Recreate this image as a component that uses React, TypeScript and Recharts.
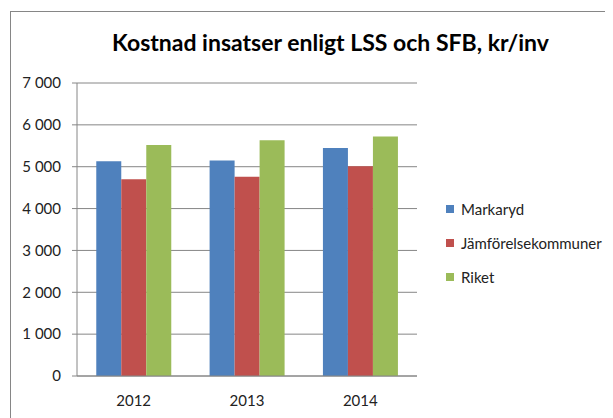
import { Bar, BarChart, CartesianGrid, XAxis, YAxis } from 'recharts';

const years = ['2012', '2013', '2014'];
const markaryd = [5130, 5150, 5450];
const jamforelse = [4700, 4760, 5010];
const riket = [5520, 5630, 5720];
const yTicks = [0, 1000, 2000, 3000, 4000, 5000, 6000, 7000];

const series = [
    { key: 'markaryd', name: 'Markaryd', color: '#4F81BD' },
    { key: 'jamforelse', name: 'Jämförelsekommuner', color: '#C0504D' },
    { key: 'riket', name: 'Riket', color: '#9BBB59' },
];

const data = years.map((year, i) => ({
    year,
    markaryd: markaryd[i],
    jamforelse: jamforelse[i],
    riket: riket[i],
}));

const font = 'Lato, "Open Sans", sans-serif';
const axisColor = '#868686';

const fmt = (v: number) => (v >= 1000 ? `${Math.floor(v / 1000)} ${String(v % 1000).padStart(3, '0')}` : String(v));

function LegendBox() {
    return (
        <div style={{ fontFamily: font, fontSize: 15, color: '#222' }}>
            {series.map(s => (
                <div key={s.key} style={{ display: 'flex', alignItems: 'center', height: 34 }}>
                    <span style={{ width: 8, height: 8, background: s.color, marginRight: 7, display: 'inline-block' }} />
                    <span>{s.name}</span>
                </div>
            ))}
        </div>
    );
}

export default function App() {
    return (
        <div style={{ position: 'relative', width: 613, height: 418, margin: '-8px 0 0 -8px', background: '#fff', overflow: 'hidden' }}>
            {/* chart frame: only top and left edges are visible in the crop */}
            <div
                style={{
                    position: 'absolute',
                    left: 10,
                    top: 11,
                    width: 620,
                    height: 420,
                    borderTop: '1px solid #868686',
                    borderLeft: '1px solid #868686',
                }}
            />
            <div
                style={{
                    position: 'absolute',
                    left: 0,
                    top: 28,
                    width: 661,
                    textAlign: 'center',
                    fontFamily: font,
                    fontWeight: 700,
                    fontSize: 23,
                    color: '#000',
                }}
            >
                Kostnad insatser enligt LSS och SFB, kr/inv
            </div>
            <div style={{ position: 'absolute', left: 0, top: 0 }}>
                <BarChart
                    width={613}
                    height={418}
                    data={data}
                    margin={{ top: 83, right: 196, bottom: 12, left: 10 }}
                    barCategoryGap="17%"
                    barGap={0}
                >
                    <CartesianGrid vertical={false} stroke={axisColor} />
                    <XAxis
                        xAxisId="bounds"
                        type="number"
                        domain={[0, 3]}
                        ticks={[0, 1, 2, 3]}
                        tick={false}
                        axisLine={false}
                        tickLine={{ stroke: axisColor }}
                        tickSize={5}
                        height={0}
                    />
                    <XAxis
                        xAxisId="cat"
                        dataKey="year"
                        axisLine={{ stroke: axisColor }}
                        tickLine={false}
                        height={30}
                        tick={{ fill: '#222', fontSize: 15, fontFamily: font }}
                        tickMargin={13}
                    />
                    <YAxis
                        domain={[0, 7000]}
                        ticks={yTicks}
                        width={67}
                        axisLine={{ stroke: axisColor }}
                        tickLine={{ stroke: axisColor }}
                        tickSize={5}
                        tickMargin={11}
                        tickFormatter={fmt}
                        tick={{ fill: '#222', fontSize: 15, fontFamily: font }}
                        interval={0}
                    />
                    {series.map(s => (
                        <Bar
                            key={s.key}
                            xAxisId="cat"
                            dataKey={s.key}
                            name={s.name}
                            fill={s.color}
                            isAnimationActive={false}
                        />
                    ))}
                </BarChart>
            </div>
            <div style={{ position: 'absolute', left: 446, top: 192 }}>
                <LegendBox />
            </div>
        </div>
    );
}
